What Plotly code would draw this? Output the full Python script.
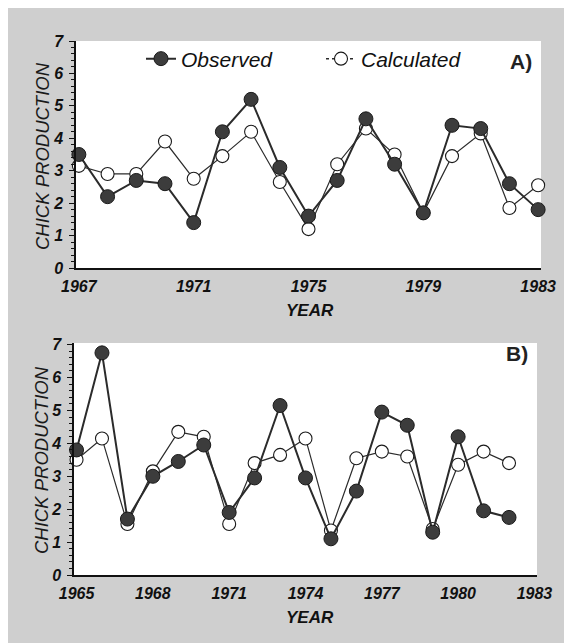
import plotly.graph_objects as go

# ---------------- data ----------------
years_a = list(range(1967, 1984))
observed_a = [3.5, 2.2, 2.7, 2.6, 1.4, 4.2, 5.2, 3.1, 1.6, 2.7, 4.6, 3.2, 1.7, 4.4, 4.3, 2.6, 1.8]
calculated_a = [3.15, 2.9, 2.9, 3.9, 2.75, 3.45, 4.2, 2.65, 1.2, 3.2, 4.3, 3.5, 1.7, 3.45, 4.15, 1.85, 2.55]

years_b = list(range(1965, 1983))
observed_b = [3.8, 6.75, 1.7, 3.0, 3.45, 3.95, 1.9, 2.95, 5.15, 2.95, 1.1, 2.55, 4.95, 4.55, 1.3, 4.2, 1.95, 1.75]
calculated_b = [3.5, 4.15, 1.55, 3.15, 4.35, 4.2, 1.55, 3.4, 3.65, 4.15, 1.35, 3.55, 3.75, 3.6, 1.4, 3.35, 3.75, 3.4]

ticks_a = [1967, 1971, 1975, 1979, 1983]
ticks_b = [1965, 1968, 1971, 1974, 1977, 1980, 1983]
y_ticks = [0, 1, 2, 3, 4, 5, 6, 7]

y_title = "CHICK PRODUCTION"
x_title = "YEAR"

# ---------------- style ----------------
W, H = 572, 643
OFF = 8  # page body margin offset
FONT = "Liberation Sans"
DARK = "#2b2b2b"
OBS_FILL = "#3c3c3c"

obs_marker = dict(size=14, color=OBS_FILL, line=dict(color="#1a1a1a", width=1))
calc_marker = dict(size=13, color="white", line=dict(color="#1a1a1a", width=1.1))

fig = go.Figure()

def add_panel(xs, obs, calc, xa, ya):
    fig.add_trace(go.Scatter(x=xs, y=calc, mode="lines+markers", xaxis=xa, yaxis=ya,
                             line=dict(color=DARK, width=1.2), marker=calc_marker,
                             showlegend=False, cliponaxis=False))
    fig.add_trace(go.Scatter(x=xs, y=obs, mode="lines+markers", xaxis=xa, yaxis=ya,
                             line=dict(color=DARK, width=2), marker=obs_marker,
                             showlegend=False, cliponaxis=False))

add_panel(years_a, observed_a, calculated_a, "x", "y")
add_panel(years_b, observed_b, calculated_b, "x2", "y2")

# legend-only traces (no data)
fig.add_trace(go.Scatter(x=[None], y=[None], mode="lines+markers", name="Observed",
                         line=dict(color=DARK, width=2), marker=obs_marker))
fig.add_trace(go.Scatter(x=[None], y=[None], mode="lines+markers", name="Calculated",
                         line=dict(color=DARK, width=1.5, dash="dot"), marker=calc_marker))

def px_x(p):
    return (p - OFF) / W

def px_y(p):
    return 1 - (p - OFF) / H

tickfont = dict(family=FONT, size=16, color="#111", style="italic", weight="bold")
yaxis_common = dict(
    automargin=False,
    range=[0, 7], tickvals=y_ticks, ticks="outside", ticklen=5, tickwidth=1.2,
    tickcolor="#111", showline=True, linecolor="#111", linewidth=1.5,
    showgrid=False, zeroline=False, tickfont=tickfont, ticklabelstandoff=3,
    minor=dict(dtick=0.2, ticks="outside", ticklen=3, tickwidth=1, tickcolor="#111"),
)
xaxis_common = dict(
    automargin=False,
    showline=True, linecolor="#111", linewidth=2.2, showgrid=False, zeroline=False,
    ticks="", tickfont=tickfont, ticklabelstandoff=3,
)

ytitle_font = dict(family=FONT, size=18.5, color="#1a1a1a", style="italic")
xtitle_font = dict(family=FONT, size=17, color="#111", style="italic", weight="bold")
label_font = dict(family=FONT, size=21, color="#222", weight="bold")

def ann(text, x, y, font, angle=0):
    return dict(text=text, x=px_x(x), y=px_y(y), xref="paper", yref="paper",
                xanchor="center", yanchor="middle", showarrow=False,
                textangle=angle, font=font)

fig.update_layout(
    width=W, height=H,
    margin=dict(l=0, r=0, t=0, b=0, autoexpand=False),
    paper_bgcolor="#cfcfcf",
    plot_bgcolor="white",
    font=dict(family=FONT),
    xaxis=dict(xaxis_common, domain=[px_x(76), px_x(541)], range=[1966.9, 1983.1],
               tickvals=ticks_a, anchor="y"),
    yaxis=dict(yaxis_common, domain=[px_y(268), px_y(41)], anchor="x"),
    xaxis2=dict(xaxis_common, domain=[px_x(74), px_x(537)], range=[1964.9, 1983.1],
                tickvals=ticks_b, anchor="y2"),
    yaxis2=dict(yaxis_common, domain=[px_y(575), px_y(343)], range=[0, 7.05], anchor="x2"),
    legend=dict(orientation="h", x=px_x(141), y=px_y(59), xanchor="left", yanchor="middle",
                bgcolor="rgba(0,0,0,0)", entrywidth=135, entrywidthmode="pixels",
                font=dict(family=FONT, size=21, color="#111", style="italic")),
    annotations=[
        ann(y_title, 42, 156, ytitle_font, -90),
        ann(y_title, 42, 460, ytitle_font, -90),
        ann(x_title, 310, 310, xtitle_font),
        ann(x_title, 310, 617, xtitle_font),
        ann("A)", 521, 61, label_font),
        ann("B)", 517, 354, label_font),
    ],
)

fig.write_html("out.html")
